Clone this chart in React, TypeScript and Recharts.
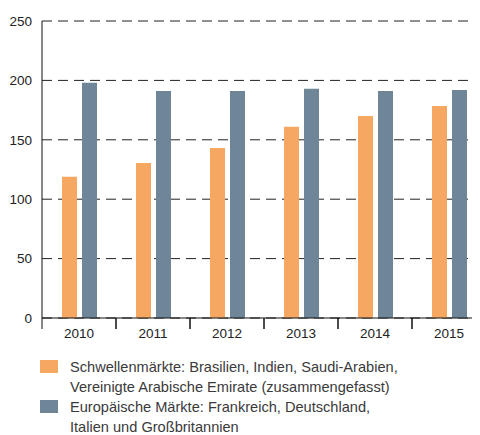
import { BarChart, Bar, XAxis, YAxis, CartesianGrid, Legend } from 'recharts';

const years = ['2010', '2011', '2012', '2013', '2014', '2015'];
const emerging = [119, 130.5, 143, 161, 170, 178.5];
const european = [198, 191, 191, 193, 191, 192];
const yTicks = [0, 50, 100, 150, 200, 250];

const emergingLabel = [
  'Schwellenmärkte: Brasilien, Indien, Saudi-Arabien,',
  'Vereinigte Arabische Emirate (zusammengefasst)',
];
const europeanLabel = ['Europäische Märkte: Frankreich, Deutschland,', 'Italien und Großbritannien'];

const data = years.map((year, i) => ({ year, emerging: emerging[i], european: european[i] }));

const FONT = '"Liberation Sans", Arial, Helvetica, sans-serif';
const HALF_BAND = 37;

type TickProps = { x?: number; y?: number; payload?: { value: string } };

function YearTick({ x = 0, y = 0, payload }: TickProps) {
  return (
    <g>
      <line x1={x - HALF_BAND} x2={x - HALF_BAND} y1={y} y2={y + 11} stroke="#111" />
      <line x1={x + HALF_BAND} x2={x + HALF_BAND} y1={y} y2={y + 11} stroke="#111" />
      <text x={x} y={y + 20} textAnchor="middle" fontSize={13.5} fill="#222" fontFamily={FONT}>
        {payload?.value}
      </text>
    </g>
  );
}

type LegendEntry = { value?: string; color?: string };

function ChartLegend({ payload }: { payload?: LegendEntry[] }) {
  if (!payload) return null;
  return (
    <div style={{ fontFamily: FONT, fontSize: 14.6, lineHeight: '20px', color: '#3a3a3a' }}>
      {payload.map((p) => (
        <div key={p.value} style={{ display: 'flex', alignItems: 'flex-start' }}>
          <span
            style={{ width: 18, height: 13, marginTop: 3, background: p.color, flexShrink: 0 }}
            aria-hidden="true"
          />
          <span style={{ marginLeft: 12, whiteSpace: 'pre' }}>{p.value}</span>
        </div>
      ))}
    </div>
  );
}

export default function App() {
  return (
    <div style={{ width: 472, height: 427, overflow: 'hidden' }}>
      <BarChart
        width={478}
        height={427}
        data={data}
        margin={{ top: 13, right: 0, left: 0, bottom: 87 }}
        barSize={15}
        barGap={5}
      >
        <CartesianGrid stroke="#222" strokeDasharray="10 6" vertical={false} />
        <XAxis
          dataKey="year"
          height={30}
          axisLine={{ stroke: '#111' }}
          tickLine={false}
          tickSize={0}
          tickMargin={0}
          tick={<YearTick />}
          interval={0}
        />
        <YAxis
          width={34}
          domain={[0, 250]}
          ticks={yTicks}
          axisLine={{ stroke: '#111' }}
          tickLine={false}
          tickSize={0}
          tickMargin={10}
          tick={{ fill: '#222', fontSize: 13.5, fontFamily: FONT }}
        />
        <Legend
          layout="vertical"
          align="center"
          verticalAlign="middle"
          itemSorter="dataKey"
          content={<ChartLegend />}
          wrapperStyle={{ left: 32, top: 349, width: 440 }}
        />
        <Bar dataKey="emerging" name={emergingLabel.join('\n')} fill="#F6A862" isAnimationActive={false} />
        <Bar dataKey="european" name={europeanLabel.join('\n')} fill="#6E8698" isAnimationActive={false} />
      </BarChart>
    </div>
  );
}
